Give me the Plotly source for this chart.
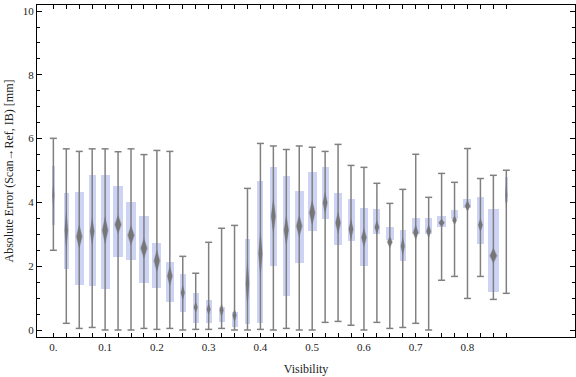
import plotly.graph_objects as go

# ---- data ----
visibility = [0.0, 0.025, 0.05, 0.075, 0.1, 0.125, 0.15, 0.175, 0.2, 0.225,
              0.25, 0.275, 0.3, 0.325, 0.35, 0.375, 0.4, 0.425, 0.45, 0.475,
              0.5, 0.525, 0.55, 0.575, 0.6, 0.625, 0.65, 0.675, 0.7, 0.725,
              0.75, 0.775, 0.8, 0.825, 0.85, 0.875]
err_max = [6.01, 5.68, 5.60, 5.68, 5.68, 5.59, 5.68, 5.50, 5.63, 5.60,
           2.31, 1.78, 2.75, 3.19, 3.28, 4.44, 5.85, 5.77, 5.66, 5.77,
           5.73, 5.60, 5.82, 5.16, 5.10, 4.60, 3.97, 4.41, 5.51, 4.16,
           4.91, 4.63, 5.69, 4.75, 4.85, 5.01]
err_min = [2.50, 0.21, 0.05, 0.08, 0.0, 0.0, 0.0, 0.05, 0.02, 0.05,
           0.0, 0.02, 0.02, 0.05, 0.0, 0.0, 0.02, 0.0, 0.05, 0.0,
           0.0, 0.24, 0.27, 0.15, 0.0, 0.24, 0.05, 0.08, 0.21, 0.0,
           1.56, 1.68, 0.99, 1.68, 0.96, 1.15]
err_q3 = [5.15, 4.29, 4.33, 4.86, 4.86, 4.51, 4.01, 3.59, 2.73, 2.13,
          1.76, 1.16, 0.94, 0.72, 0.56, 2.85, 4.67, 5.11, 4.83, 4.36,
          4.95, 5.11, 4.29, 4.11, 3.82, 3.79, 3.23, 3.13, 3.51, 3.51,
          3.57, 3.76, 4.11, 4.16, 3.79, 4.79]
err_q1 = [3.29, 1.92, 1.41, 1.39, 1.29, 2.29, 2.20, 1.47, 1.33, 0.89,
          0.57, 0.23, 0.23, 0.26, 0.10, 0.20, 0.23, 2.02, 1.08, 2.10,
          3.11, 3.49, 2.66, 2.79, 2.02, 3.02, 2.82, 2.16, 3.01, 3.01,
          3.23, 3.47, 3.82, 2.71, 1.20, 4.02]
err_mean = [4.23, 3.13, 2.93, 3.10, 3.13, 3.31, 2.97, 2.56, 2.17, 1.69,
            1.17, 0.71, 0.65, 0.62, 0.46, 1.46, 2.40, 3.57, 3.13, 3.26,
            3.68, 3.99, 3.36, 3.16, 2.90, 3.22, 2.76, 2.63, 3.06, 3.10,
            3.36, 3.44, 3.89, 3.29, 2.33, 4.23]
mean_ci = [0.47, 0.63, 0.37, 0.43, 0.42, 0.29, 0.30, 0.31, 0.34, 0.31,
           0.24, 0.17, 0.18, 0.21, 0.20, 0.73, 0.73, 0.55, 0.47, 0.34,
           0.39, 0.34, 0.34, 0.32, 0.29, 0.21, 0.18, 0.29, 0.23, 0.21,
           0.12, 0.14, 0.17, 0.21, 0.23, 0.47]
box_weight = [3, 5, 9, 6.7, 9, 10, 10, 10, 9, 8,
              6, 6, 6, 6, 6, 5.3, 6, 7, 7.3, 9,
              9, 7, 8, 7, 8, 7, 8, 6, 8, 7,
              9, 7, 8, 7, 11, 3]
x_tickvals = [0.0, 0.1, 0.2, 0.3, 0.4, 0.5, 0.6, 0.7, 0.8]
x_ticktext = ["0.", "0.1", "0.2", "0.3", "0.4", "0.5", "0.6", "0.7", "0.8"]
y_tickvals = [0, 2, 4, 6, 8, 10]

PX_PER_X = 517.7
box_w = [w / PX_PER_X for w in box_weight]

GRAY = "#808080"
BOXC = "#CDD3F5"
FONT = "Liberation Serif, Times New Roman, serif"

fig = go.Figure()

# whiskers
wx, wy = [], []
for x, lo, hi in zip(visibility, err_min, err_max):
    wx += [x, x, None]
    wy += [lo, hi, None]
fig.add_trace(go.Scatter(x=wx, y=wy, mode="lines",
                         line=dict(color=GRAY, width=1.5),
                         hoverinfo="skip", showlegend=False))
fig.add_trace(go.Scatter(x=visibility + visibility, y=err_min + err_max,
                         mode="markers",
                         marker=dict(symbol="line-ew", size=5,
                                     line=dict(color=GRAY, width=1.5)),
                         hoverinfo="skip", showlegend=False))

# boxes
fig.add_trace(go.Bar(x=visibility,
                     y=[h - l for h, l in zip(err_q3, err_q1)],
                     base=err_q1, width=box_w,
                     marker=dict(color=BOXC, line=dict(width=0)),
                     hoverinfo="skip", showlegend=False))

# mean diamonds (soft halo + core)
def diamonds(scale_w, scale_h):
    dx, dy = [], []
    for x, m, c, w in zip(visibility, err_mean, mean_ci, box_w):
        hw = 0.3 * w * scale_w
        hh = c * scale_h
        dx += [x - hw, x, x + hw, x, x - hw, None]
        dy += [m, m + hh, m, m - hh, m, None]
    return dx, dy

hx, hy = diamonds(1.35, 1.12)
fig.add_trace(go.Scatter(x=hx, y=hy, mode="lines", fill="toself",
                         fillcolor="rgba(120,120,120,0.35)",
                         line=dict(width=0), hoverinfo="skip",
                         showlegend=False))
cx, cy = diamonds(1.0, 1.0)
fig.add_trace(go.Scatter(x=cx, y=cy, mode="lines", fill="toself",
                         fillcolor="#767676",
                         line=dict(width=0), hoverinfo="skip",
                         showlegend=False))

fig.update_layout(
    width=576, height=377,
    margin=dict(l=37, r=1, t=5, b=40),
    paper_bgcolor="white", plot_bgcolor="white",
    font=dict(family=FONT, size=11, color="#222"),
    bargap=0,
    xaxis=dict(
        range=[-0.0316, 1.0077], automargin=False,
        tickmode="array", tickvals=x_tickvals, ticktext=x_ticktext,
        ticks="inside", ticklen=4, tickwidth=1, tickcolor="black",
        minor=dict(tickmode="array", tickvals=visibility, ticks="inside",
                   ticklen=4, tickwidth=1, tickcolor="black"),
        showline=True, linecolor="black", linewidth=1, mirror="ticks",
        showgrid=False, zeroline=False,
        tickfont=dict(family=FONT, size=11, color="#222"),
        title=dict(text="Visibility", font=dict(family=FONT, size=12, color="#222"),
                   standoff=12),
    ),
    yaxis=dict(
        range=[-0.219, 10.19], automargin=False,
        tickmode="array", tickvals=y_tickvals,
        ticks="inside", ticklen=5, tickwidth=1, tickcolor="black",
        minor=dict(dtick=0.5, tick0=0, ticks="inside", ticklen=3,
                   tickwidth=1, tickcolor="black"),
        showline=True, linecolor="black", linewidth=1, mirror="ticks",
        showgrid=False, zeroline=False,
        tickfont=dict(family=FONT, size=11, color="#222"),
        title=dict(text="Absolute Error (Scan→Ref, IB) [mm]",
                   font=dict(family=FONT, size=12, color="#222"), standoff=6),
    ),
)

fig.write_html("out.html",
               config={"displayModeBar": False},
               post_script="document.body.style.margin='0px';"
                           "document.body.style.overflow='hidden';")
